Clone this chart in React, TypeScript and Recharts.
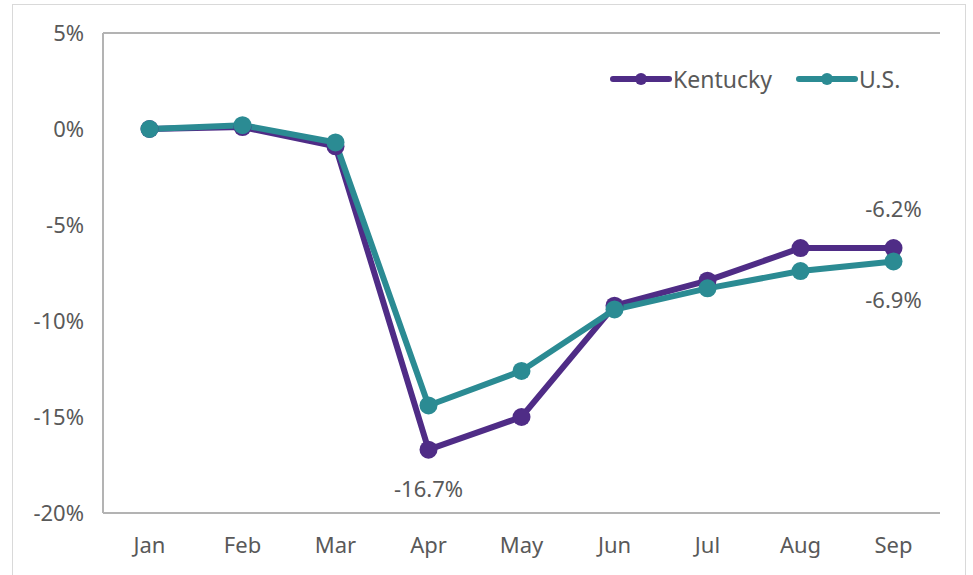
import React from "react";
import {
  LineChart, Line, XAxis, YAxis, CartesianGrid, LabelList, ReferenceLine
} from "recharts";

const months = ["Jan", "Feb", "Mar", "Apr", "May", "Jun", "Jul", "Aug", "Sep"];
const kentucky = [0, 0.1, -0.9, -16.7, -15.0, -9.2, -7.9, -6.2, -6.2];
const us = [0, 0.2, -0.7, -14.4, -12.6, -9.4, -8.3, -7.4, -6.9];
const yTicks = [-20, -15, -10, -5, 0, 5];
const seriesNames = ["Kentucky", "U.S."];

// which points carry a value label, and on which side
const kyLabels: Record<number, "top" | "bottom"> = { 3: "bottom", 8: "top" };
const usLabels: Record<number, "top" | "bottom"> = { 8: "bottom" };

const KY_COLOR = "#4f2c86";
const US_COLOR = "#2b8b93";
const TEXT = "#595959";
const FONT = "'Noto Sans', sans-serif";

const data = months.map((m, i) => ({ month: m, ky: kentucky[i], us: us[i] }));

const makeLabel = (which: Record<number, "top" | "bottom">) => (props: any) => {
  const { x, y, value, index } = props;
  const side = which[index];
  if (!side) return null;
  const dy = side === "top" ? -40 : 38;
  return (
    <text x={x} y={y + dy} textAnchor="middle" dominantBaseline="central"
      fontSize={22} fill={TEXT} fontFamily={FONT}>
      {`${value.toFixed(1)}%`}
    </text>
  );
};

const LegendIcon = ({ color }: { color: string }) => (
  <svg width={62} height={14} style={{ display: "block" }}>
    <line x1={3} y1={7} x2={59} y2={7} stroke={color} strokeWidth={6} strokeLinecap="round" />
    <circle cx={31} cy={7} r={6} fill={color} />
  </svg>
);

export default function App() {
  return (
    <div style={{ position: "absolute", left: 0, top: 0, width: 973, height: 575, background: "#fff" }}>
      <div style={{
        position: "absolute", left: 12, top: 4, width: 954, height: 580,
        border: "1px solid #d9d9d9", boxSizing: "border-box"
      }} />
      <div style={{ position: "absolute", left: 0, top: 0 }}>
        <LineChart width={973} height={575} data={data}
          margin={{ top: 33, right: 33, left: 43, bottom: 0 }}>
          <CartesianGrid vertical={false} stroke="#d9d9d9" strokeWidth={1.5} />
          <XAxis dataKey="month" height={62} padding={{ left: 46.5, right: 46.5 }}
            axisLine={{ stroke: "#b3b3b3", strokeWidth: 2 }} tickLine={false} tickSize={0} tickMargin={24}
            tick={{ fontSize: 22, fill: TEXT, fontFamily: FONT }} />
          <YAxis yAxisId="l" domain={[-20, 5]} ticks={yTicks} width={60}
            tickFormatter={(v) => `${v}%`}
            axisLine={{ stroke: "#b3b3b3", strokeWidth: 2 }} tickLine={false} tickSize={0} tickMargin={19}
            tick={{ fontSize: 22, fill: TEXT, fontFamily: FONT }} />
          <YAxis yAxisId="r" orientation="right" domain={[-20, 5]} width={0} tick={false}
            axisLine={{ stroke: "#b3b3b3", strokeWidth: 2 }} tickLine={false} />
          <ReferenceLine yAxisId="l" y={5} stroke="#b3b3b3" strokeWidth={2} />
          <Line yAxisId="l" dataKey="ky" name={seriesNames[0]} stroke={KY_COLOR} strokeWidth={6}
            dot={{ r: 9, fill: KY_COLOR, stroke: "none" }} activeDot={false} isAnimationActive={false}>
            <LabelList dataKey="ky" content={makeLabel(kyLabels)} />
          </Line>
          <Line yAxisId="l" dataKey="us" name={seriesNames[1]} stroke={US_COLOR} strokeWidth={6}
            dot={{ r: 9, fill: US_COLOR, stroke: "none" }} activeDot={false} isAnimationActive={false}>
            <LabelList dataKey="us" content={makeLabel(usLabels)} />
          </Line>
        </LineChart>
      </div>
      <div style={{
        position: "absolute", left: 610, top: 64, display: "flex", alignItems: "center",
        fontFamily: FONT, fontSize: 23, color: TEXT, lineHeight: "30px"
      }}>
        <LegendIcon color={KY_COLOR} />
        <span style={{ marginLeft: 1, marginRight: 24 }}>{seriesNames[0]}</span>
        <LegendIcon color={US_COLOR} />
        <span style={{ marginLeft: 1 }}>{seriesNames[1]}</span>
      </div>
    </div>
  );
}
